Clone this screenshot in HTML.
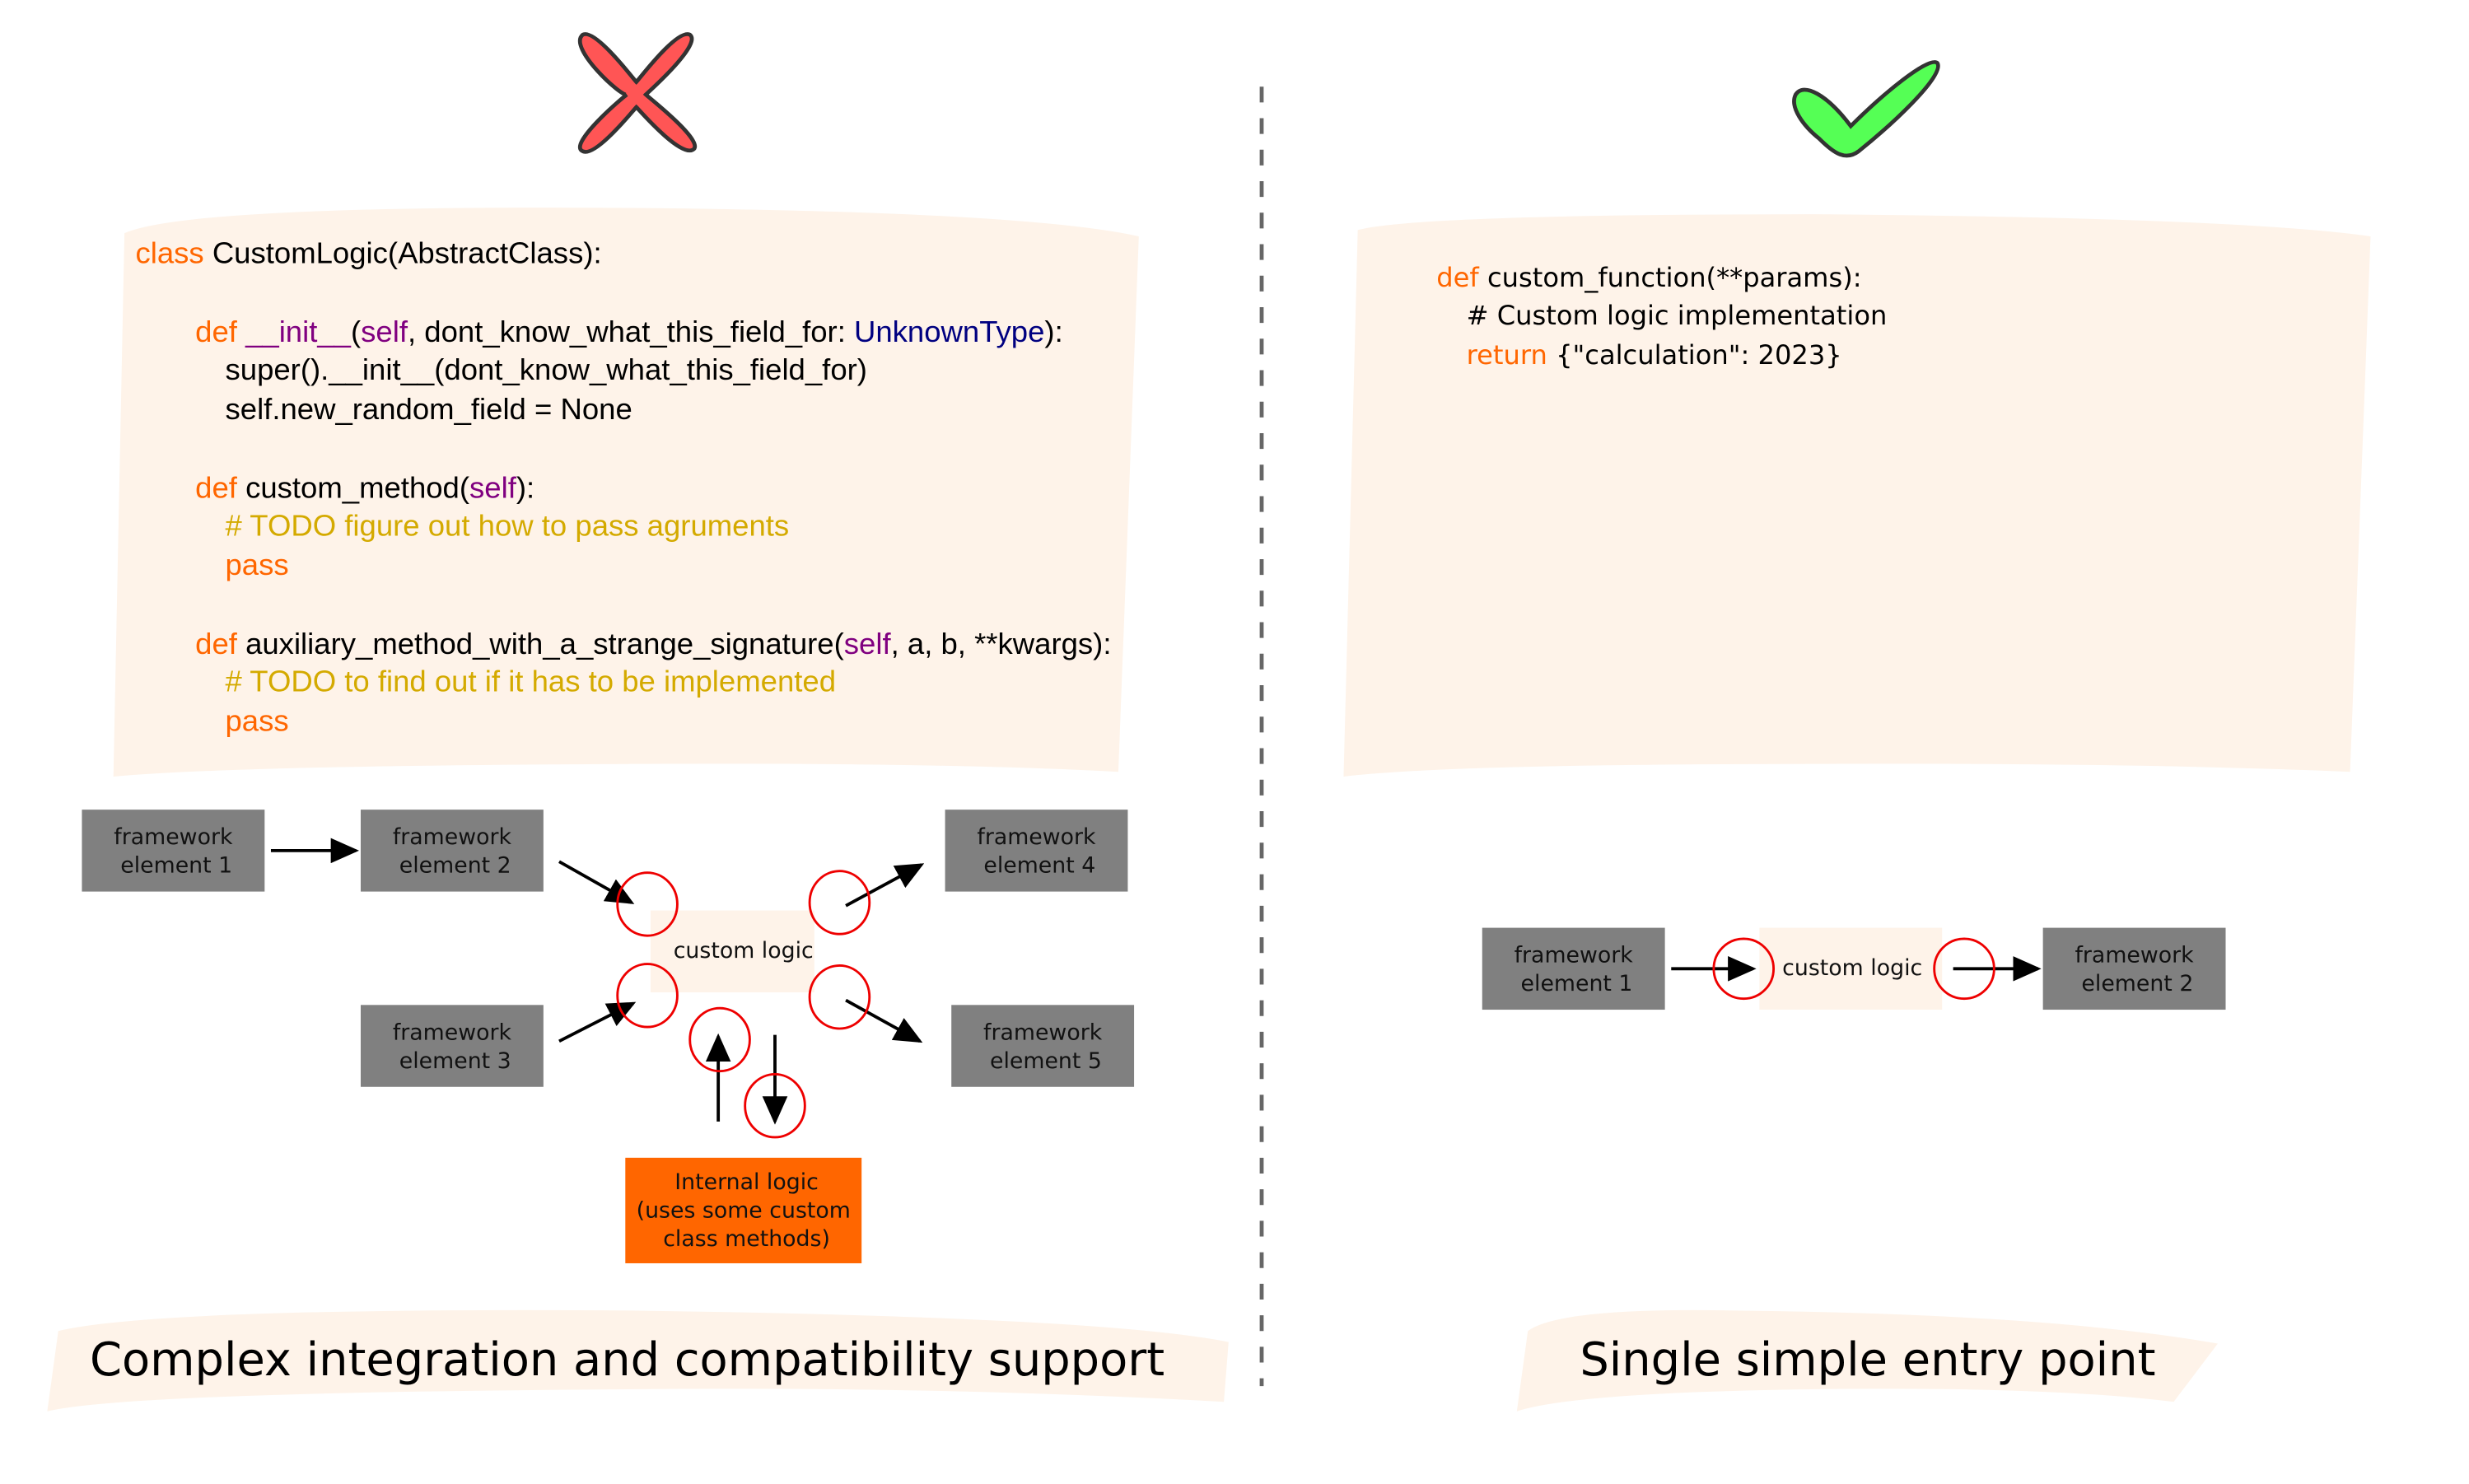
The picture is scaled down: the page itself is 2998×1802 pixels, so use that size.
<!DOCTYPE html>
<html><head><meta charset="utf-8"><style>html,body{margin:0;padding:0;background:#fff}svg{display:block}</style></head>
<body>
<svg width="2998" height="1802" viewBox="0 0 1567.5 942.1" xmlns="http://www.w3.org/2000/svg" font-family="'DejaVu Sans', 'Liberation Sans', sans-serif">
<defs>
<marker id="ah" markerWidth="18" markerHeight="16" refX="16" refY="8" orient="auto" markerUnits="userSpaceOnUse" viewBox="0 0 18 16"><path d="M0,0 L18,8 L0,16 z" fill="#000"/></marker>
</defs>
<rect width="1567.5" height="942.1" fill="#fff"/>
<!-- X mark -->
<path d="M370,22 C360,30 395,62 398,60 C395,62 360,92 370,96 C378,100 402,70 404,68 C406,70 432,100 440,95 C448,90 412,62 410,60 C412,58 446,28 438,22 C430,18 406,50 404,52 C402,50 378,18 370,22 Z" fill="#ff5555" stroke="#333" stroke-width="2.5"/>
<!-- Check mark -->
<path d="M1140,60 C1145,52 1160,60 1175,80 C1195,60 1225,35 1230,40 C1235,48 1200,80 1180,96 C1172,102 1165,98 1155,88 C1145,80 1136,68 1140,60 Z" fill="#55ff55" stroke="#333" stroke-width="2.5"/>
<!-- divider -->
<line x1="801" y1="55" x2="801" y2="880" stroke="#666" stroke-width="2.5" stroke-dasharray="10,10"/>
<!-- left code panel -->
<path d="M79,148 Q120,130 400,132 Q650,134 723,150 L710,490 Q600,484 400,485 Q150,486 72,493 Z" fill="#fef3e9"/>
<!-- right code panel -->
<path d="M862,146 Q900,136 1150,136 Q1420,138 1505,150 L1492,490 Q1350,484 1150,485 Q920,485 853,493 Z" fill="#fef3e9"/>
<g font-family="'Liberation Sans', sans-serif" font-size="19.1">
<text x="86" y="167"><tspan fill="#ff6600">class</tspan> CustomLogic(AbstractClass):</text>
<text x="124" y="217"><tspan fill="#ff6600">def</tspan> <tspan fill="#800080">__init__</tspan>(<tspan fill="#800080">self</tspan>, dont_know_what_this_field_for: <tspan fill="#000080">UnknownType</tspan>):</text>
<text x="143" y="241">super().__init__(dont_know_what_this_field_for)</text>
<text x="143" y="266">self.new_random_field = None</text>
<text x="124" y="316"><tspan fill="#ff6600">def</tspan> custom_method(<tspan fill="#800080">self</tspan>):</text>
<text x="143" y="340" fill="#d4aa00"># TODO figure out how to pass agruments</text>
<text x="143" y="365" fill="#ff6600">pass</text>
<text x="124" y="415"><tspan fill="#ff6600">def</tspan> auxiliary_method_with_a_strange_signature(<tspan fill="#800080">self</tspan>, a, b, **kwargs):</text>
<text x="143" y="439" fill="#d4aa00"># TODO to find out if it has to be implemented</text>
<text x="143" y="464" fill="#ff6600">pass</text>
</g>
<g font-size="16.8">
<text x="912" y="182"><tspan fill="#ff6600">def</tspan> custom_function(**params):</text>
<text x="931" y="206"># Custom logic implementation</text>
<text x="931" y="231"><tspan fill="#ff6600">return</tspan> {"calculation": 2023}</text>
</g>
<!-- diagrams -->
<g fill="#808080">
<rect x="52" y="514" width="116" height="52"/>
<rect x="229" y="514" width="116" height="52"/>
<rect x="600" y="514" width="116" height="52"/>
<rect x="229" y="638" width="116" height="52"/>
<rect x="604" y="638" width="116" height="52"/>
<rect x="941" y="589" width="116" height="52"/>
<rect x="1297" y="589" width="116" height="52"/>
</g>
<rect x="413" y="578" width="104" height="52" fill="#fef3e9"/>
<rect x="1117" y="589" width="116" height="52" fill="#fef3e9"/>
<rect x="397" y="735" width="150" height="67" fill="#ff6600"/>
<g font-size="14" fill="#111" text-anchor="middle">
<text x="110" y="536">framework</text><text x="112" y="554">element 1</text>
<text x="287" y="536">framework</text><text x="289" y="554">element 2</text>
<text x="658" y="536">framework</text><text x="660" y="554">element 4</text>
<text x="287" y="660">framework</text><text x="289" y="678">element 3</text>
<text x="662" y="660">framework</text><text x="664" y="678">element 5</text>
<text x="472" y="608">custom logic</text>
<text x="474" y="755">Internal logic</text>
<text x="472" y="773">(uses some custom</text>
<text x="474" y="791">class methods)</text>
<text x="999" y="611">framework</text><text x="1001" y="629">element 1</text>
<text x="1176" y="619">custom logic</text>
<text x="1355" y="611">framework</text><text x="1357" y="629">element 2</text>
</g>
<g stroke="#000" stroke-width="2" marker-end="url(#ah)">
<line x1="172" y1="540" x2="226" y2="540"/>
<line x1="355" y1="547" x2="401" y2="573"/>
<line x1="355" y1="661" x2="402" y2="637"/>
<line x1="537" y1="575" x2="585" y2="549"/>
<line x1="537" y1="635" x2="584" y2="661"/>
<line x1="456" y1="712" x2="456" y2="658"/>
<line x1="492" y1="657" x2="492" y2="712"/>
<line x1="1061" y1="615" x2="1113" y2="615"/>
<line x1="1240" y1="615" x2="1294" y2="615"/>
</g>
<g fill="none" stroke="#ee0000" stroke-width="1.5">
<ellipse cx="411" cy="574" rx="19" ry="20"/>
<ellipse cx="533" cy="573" rx="19" ry="20"/>
<ellipse cx="411" cy="632" rx="19" ry="20"/>
<ellipse cx="533" cy="633" rx="19" ry="20"/>
<ellipse cx="457" cy="660" rx="19" ry="20"/>
<ellipse cx="492" cy="702" rx="19" ry="20"/>
<ellipse cx="1107" cy="615" rx="19" ry="19"/>
<ellipse cx="1247" cy="615" rx="19" ry="19"/>
</g>
<!-- bottom labels -->
<path d="M37,845 Q100,830 400,832 Q700,836 780,852 L777,890 Q600,880 400,882 Q80,884 30,896 Z" fill="#fef3e9"/>
<path d="M970,845 Q990,830 1100,832 Q1300,834 1408,853 L1380,890 Q1300,880 1150,882 Q1000,884 963,896 Z" fill="#fef3e9"/>
<g font-size="29.2" fill="#000">
<text x="57" y="873">Complex integration and compatibility support</text>
<text x="1003" y="873">Single simple entry point</text>
</g>
</svg>
</body></html>
